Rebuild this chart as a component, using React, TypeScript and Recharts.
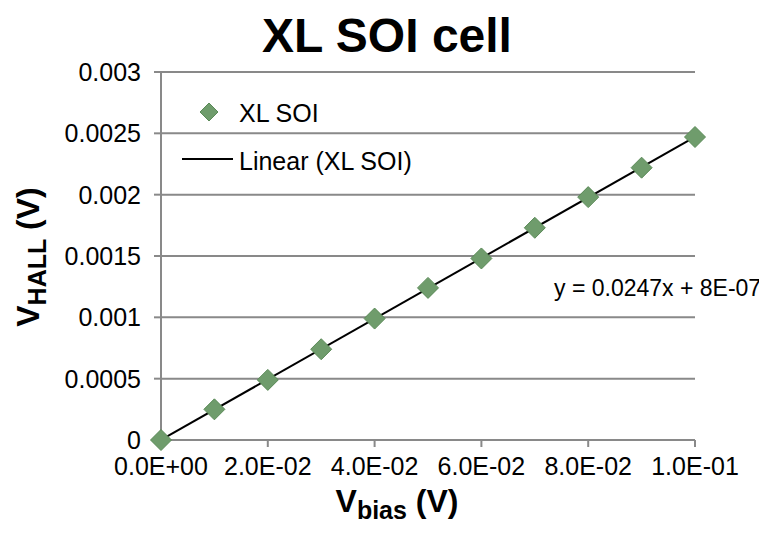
import { ScatterChart, Scatter, XAxis, YAxis, CartesianGrid } from 'recharts'

const biasV = [0, 0.01, 0.02, 0.03, 0.04, 0.05, 0.06, 0.07, 0.08, 0.09, 0.1]
const hallV = [0, 0.00025, 0.00049, 0.00074, 0.00099, 0.00124, 0.00148, 0.00173, 0.00198, 0.00222, 0.00247]
const trendX = [0, 0.1]
const trendY = [0.0000008, 0.0024708]
const xTicks = [0, 0.02, 0.04, 0.06, 0.08, 0.1]
const yTicks = [0, 0.0005, 0.001, 0.0015, 0.002, 0.0025, 0.003]

const points = biasV.map((x, i) => ({ x, y: hallV[i] }))
const trend = trendX.map((x, i) => ({ x, y: trendY[i] }))

const FILL = '#6f9c6c'
const STROKE = '#5a8a57'
const GRID = '#898989'
const FONT = '"Liberation Sans", Arial, sans-serif'

const fmtExp = (v: number) => {
  const [m, e] = v.toExponential(1).split('e')
  return `${m}E${e[0]}${e.slice(1).padStart(2, '0')}`
}

const Diamond = (p: any) => {
  const { cx, cy } = p
  const r = 10.5
  return <polygon points={`${cx},${cy - r} ${cx + r},${cy} ${cx},${cy + r} ${cx - r},${cy}`} fill={FILL} stroke={STROKE} strokeWidth={1} />
}

export default function App() {
  return (
    <div style={{ position: 'relative', width: 767, height: 534, margin: -8, background: '#fff' }}>
      <ScatterChart width={767} height={534} margin={{ top: 72, right: 72, left: 0, bottom: 0 }}>
        <CartesianGrid vertical={false} stroke={GRID} strokeWidth={2} />
        <XAxis type="number" dataKey="x" domain={[0, 0.1]} ticks={xTicks} tickFormatter={fmtExp} height={94}
          stroke={GRID} strokeWidth={2} tickSize={7} tickMargin={10} tick={{ fontSize: 25, fill: '#000', fontFamily: FONT }} />
        <YAxis type="number" dataKey="y" domain={[0, 0.003]} ticks={yTicks} width={161}
          stroke={GRID} strokeWidth={2} tickSize={7} tickMargin={13} tick={{ fontSize: 25, fill: '#000', fontFamily: FONT }} />
        <Scatter data={trend} line={{ stroke: '#000', strokeWidth: 2 }} shape={() => null} isAnimationActive={false} />
        <Scatter data={points} shape={Diamond} isAnimationActive={false} />
      </ScatterChart>
      <svg style={{ position: 'absolute', left: 0, top: 0 }} width={767} height={534} fontFamily={FONT}>
        <text x={387} y={52} fontSize={48} fontWeight="bold" textAnchor="middle">XL SOI cell</text>
        <text x={397} y={512} fontSize={32} fontWeight="bold" textAnchor="middle">
          V<tspan fontSize={25} dy={7}>bias</tspan><tspan dy={-7}> (V)</tspan>
        </text>
        <text transform="translate(39,257) rotate(-90)" fontSize={32} fontWeight="bold" textAnchor="middle">
          V<tspan fontSize={25} dy={7}>HALL</tspan><tspan dy={-7}> (V)</tspan>
        </text>
        <polygon points="209,103 218,112 209,121 200,112" fill={FILL} stroke={STROKE} />
        <text x={239} y={122} fontSize={25}>XL SOI</text>
        <line x1={182} x2={233} y1={159} y2={159} stroke="#000" strokeWidth={2} />
        <text x={239} y={170} fontSize={25}>Linear (XL SOI)</text>
        <text x={554} y={296} fontSize={23}>y = 0.0247x + 8E-07</text>
      </svg>
    </div>
  )
}
